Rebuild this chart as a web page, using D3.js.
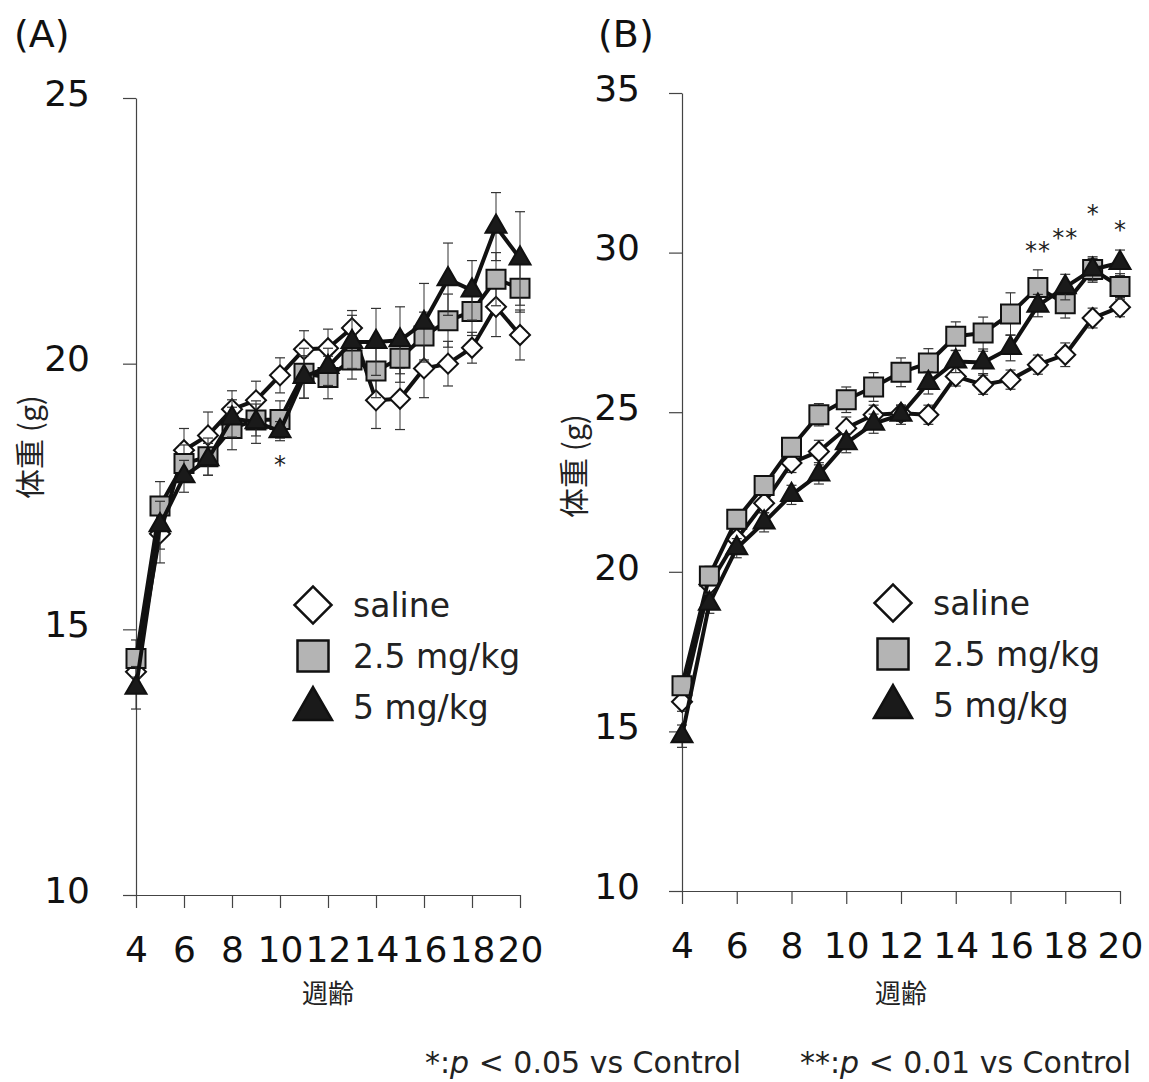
<!DOCTYPE html>
<html><head><meta charset="utf-8">
<script src="https://cdn.jsdelivr.net/npm/d3@7"></script>
<style>body{margin:0;background:#fff}</style>
</head><body><svg id="c" width="1149" height="1082"></svg>
<script>
// ---- data ----
const weeks = [4,5,6,7,8,9,10,11,12,13,14,15,16,17,18,19,20];
const xTickValues = [4,6,8,10,12,14,16,18,20];
const seriesNames = ["saline","2.5 mg/kg","5 mg/kg"];

// Panel (A)
const aSaline = [14.2,16.8,18.37,18.65,19.14,19.31,19.78,20.27,20.29,20.67,19.31,19.34,19.91,20.0,20.30,21.07,20.54];
const aSalineErr = [0.2,0.55,0.41,0.44,0.35,0.36,0.33,0.35,0.36,0.33,0.53,0.58,0.55,0.42,0.29,0.56,0.47];
const aLow = [14.45,17.32,18.12,18.25,18.78,18.94,18.95,19.82,19.74,20.07,19.86,20.10,20.52,20.81,20.98,21.59,21.42];
const aLowErr = [0.35,0.46,0.35,0.35,0.4,0.3,0.35,0.47,0.4,0.36,0.5,0.45,0.45,0.5,0.45,0.5,0.45];
const aHigh = [13.9,16.96,17.88,18.2,18.97,18.9,18.73,19.75,19.94,20.41,20.41,20.44,20.77,21.59,21.38,22.58,21.98];
const aHighErr = [0.4,0.45,0.3,0.3,0.35,0.4,0.18,0.4,0.35,0.5,0.63,0.63,0.74,0.68,0.56,0.64,0.88];
const aYTicks = [10,15,20,25];
const aSig = [{week:10, label:"*", value:18.2}];

// Panel (B)
const bSaline = [15.93,19.6,21.03,22.15,23.41,23.77,24.5,24.92,24.97,24.92,26.12,25.86,26.02,26.49,26.80,27.95,28.29];
const bSalineErr = [0.3,0.3,0.3,0.3,0.3,0.35,0.35,0.3,0.25,0.3,0.3,0.3,0.3,0.3,0.37,0.31,0.3];
const bLow = [16.43,19.87,21.65,22.70,23.9,24.92,25.39,25.79,26.25,26.54,27.38,27.48,28.08,28.91,28.40,29.47,28.94];
const bLowErr = [0.3,0.3,0.3,0.3,0.3,0.35,0.4,0.45,0.45,0.45,0.45,0.5,0.66,0.55,0.45,0.4,0.4];
const bHigh = [14.85,19.0,20.74,21.55,22.41,23.05,24.03,24.64,24.92,25.92,26.59,26.56,27.01,28.34,28.92,29.47,29.68];
const bHighErr = [0.35,0.3,0.3,0.3,0.3,0.3,0.3,0.3,0.3,0.35,0.35,0.35,0.4,0.35,0.4,0.35,0.4];
const bYTicks = [10,15,20,25,30,35];
const bSig = [{week:17,label:"**",value:30.25},{week:18,label:"**",value:30.66},{week:19,label:"*",value:31.41},{week:20,label:"*",value:30.91}];

// ---- drawing ----
const svg = d3.select("#c");
const NUM_FONT = "'DejaVu Sans', Verdana, sans-serif";
const CJK_FONT = "'Noto Sans CJK JP', 'Noto Sans CJK SC', sans-serif";

const styles = [
  {shape:"diamond", fill:"#ffffff"},
  {shape:"square", fill:"#b4b4b4"},
  {shape:"triangle", fill:"#1a1a1a"}
];

function symbolPath(shape, w){
  if(shape==="diamond") return d3.symbol(d3.symbolSquare, w*w/2)();
  if(shape==="square") return d3.symbol(d3.symbolSquare, w*w)();
  return d3.symbol(d3.symbolTriangle, w*w*0.433)();
}
function symbolRot(shape){ return shape==="diamond" ? " rotate(45)" : ""; }

const panels = [
  {title:"(A)", titleX:14, x0:136, x1:520, yTop:98, yBot:895, domain:[10,25], yTicks:aYTicks,
   series:[[aSaline,aSalineErr],[aLow,aLowErr],[aHigh,aHighErr]], sig:aSig,
   yPad:33, ylabX:28, ylabY:447, legX:313, legY:605},
  {title:"(B)", titleX:598, x0:682, x1:1120, yTop:93, yBot:891, domain:[10,35], yTicks:bYTicks,
   series:[[bSaline,bSalineErr],[bLow,bLowErr],[bHigh,bHighErr]], sig:bSig,
   yPad:29, ylabX:572, ylabY:466, legX:893, legY:603}
];

panels.forEach(p=>{
  const x = d3.scaleLinear().domain([4,20]).range([p.x0,p.x1]);
  const y = d3.scaleLinear().domain(p.domain).range([p.yBot,p.yTop]);
  const g = svg.append("g");

  g.append("text").attr("x",p.titleX).attr("y",47)
    .attr("font-family",NUM_FONT).attr("font-size",38).attr("fill","#111").text(p.title);

  // y axis
  const ya = g.append("g").attr("transform",`translate(${p.x0},0)`)
    .call(d3.axisLeft(y).tickValues(p.yTicks).tickFormat(d3.format("d")).tickSize(13).tickSizeOuter(0).tickPadding(p.yPad));
  ya.select(".domain").attr("stroke","#444").attr("stroke-width",1.2);
  ya.selectAll(".tick line").attr("stroke","#444").attr("stroke-width",1.2);
  ya.selectAll(".tick text").attr("font-family",NUM_FONT).attr("font-size",36).attr("fill","#111").attr("dy","0.2em");

  // x axis
  const xa = g.append("g").attr("transform",`translate(0,${p.yBot})`)
    .call(d3.axisBottom(x).tickValues(xTickValues).tickFormat(d3.format("d")).tickSize(13).tickSizeOuter(0).tickPadding(28));
  xa.select(".domain").attr("stroke","#444").attr("stroke-width",1.2);
  xa.selectAll(".tick line").attr("stroke","#444").attr("stroke-width",1.2);
  xa.selectAll(".tick text").attr("font-family",NUM_FONT).attr("font-size",36).attr("fill","#111");

  // axis titles
  g.append("text").attr("x",(p.x0+p.x1)/2).attr("y",1003).attr("text-anchor","middle")
    .attr("font-family",CJK_FONT).attr("font-size",26).attr("fill","#222").text("週齢");
  g.append("text").attr("transform",`translate(${p.ylabX},${p.ylabY}) rotate(-90)`)
    .attr("text-anchor","middle").attr("dominant-baseline","central")
    .attr("font-family",CJK_FONT).attr("font-size",30).attr("fill","#222").text("体重 (g)");

  // series
  p.series.forEach((s,si)=>{
    const [vals,errs] = s;
    const pts = weeks.map((w,i)=>({w, v:vals[i], e:errs[i]}));
    const st = styles[si];
    const sg = g.append("g");
    // error bars
    const eb = sg.selectAll("g.eb").data(pts).join("g");
    eb.append("line").attr("x1",d=>x(d.w)).attr("x2",d=>x(d.w))
      .attr("y1",d=>y(d.v-d.e)).attr("y2",d=>y(d.v+d.e)).attr("stroke","#333").attr("stroke-width",1);
    [-1,1].forEach(sign=>{
      eb.append("line").attr("x1",d=>x(d.w)-5).attr("x2",d=>x(d.w)+5)
        .attr("y1",d=>y(d.v+sign*d.e)).attr("y2",d=>y(d.v+sign*d.e)).attr("stroke","#333").attr("stroke-width",1.2);
    });
    // line
    sg.append("path").datum(pts)
      .attr("d",d3.line().x(d=>x(d.w)).y(d=>y(d.v)))
      .attr("fill","none").attr("stroke","#111").attr("stroke-width",4).attr("stroke-linejoin","round");
    // markers
    const mw = st.shape==="diamond"?20:(st.shape==="square"?19:21);
    sg.selectAll("path.m").data(pts).join("path").attr("class","m")
      .attr("d",symbolPath(st.shape,mw))
      .attr("transform",d=>`translate(${x(d.w)},${y(d.v)})${symbolRot(st.shape)}`)
      .attr("fill",st.fill).attr("stroke","#111").attr("stroke-width",2);
  });

  // significance markers
  g.selectAll("text.sig").data(p.sig).join("text").attr("class","sig")
    .attr("x",d=>x(d.week)).attr("y",d=>y(d.value)+14).attr("text-anchor","middle")
    .attr("font-family",NUM_FONT).attr("font-size",24).attr("fill","#222")
    .attr("letter-spacing",d=>d.label.length>1?1:0)
    .text(d=>d.label);

  // legend
  seriesNames.forEach((name,i)=>{
    const st = styles[i];
    const cy = p.legY + i*51;
    const lw = st.shape==="diamond"?37:(st.shape==="square"?31:38);
    g.append("path").attr("d",symbolPath(st.shape,lw))
      .attr("transform",`translate(${p.legX},${cy + (st.shape==="triangle"?2:0)})${symbolRot(st.shape)}`)
      .attr("fill",st.fill).attr("stroke","#111").attr("stroke-width",2.5);
    g.append("text").attr("x",p.legX+40).attr("y",cy).attr("dominant-baseline","central")
      .attr("font-family",NUM_FONT).attr("font-size",33).attr("fill","#222").text(name);
  });
});

// footnote
const foot = svg.append("g").attr("font-family",NUM_FONT).attr("font-size",30).attr("fill","#222");
const f1 = foot.append("text").attr("x",425).attr("y",1073);
f1.append("tspan").text("*:");
f1.append("tspan").attr("font-style","italic").text("p");
f1.append("tspan").text(" < 0.05 vs Control");
const f2 = foot.append("text").attr("x",800).attr("y",1073);
f2.append("tspan").text("**:");
f2.append("tspan").attr("font-style","italic").text("p");
f2.append("tspan").text(" < 0.01 vs Control");
</script>
</body></html>
